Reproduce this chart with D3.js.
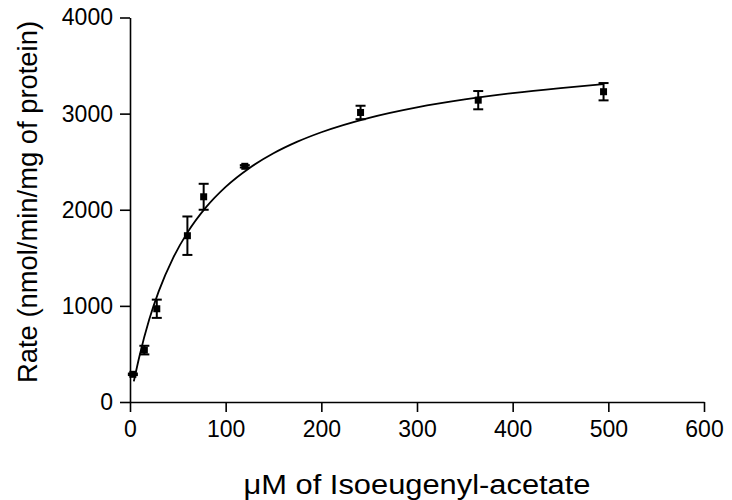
<!DOCTYPE html>
<html>
<head>
<meta charset="utf-8">
<script src="https://cdn.jsdelivr.net/npm/d3@7"></script>
<style>
  body { margin: 0; background: #fff; }
  svg text { font-family: "Liberation Sans", Arial, sans-serif; fill: #000; }
</style>
</head>
<body>
<div id="chart"></div>
<script>
// measured points (substrate conc. µM, rate, +/- error)
const concs = [3, 15, 28, 60, 77, 120, 241, 364, 495];
const rates = [288, 540, 970, 1730, 2135, 2452, 3012, 3140, 3228];
const errs  = [8, 45, 95, 200, 135, 12, 70, 95, 90];

// fitted curve
const fitX = [4, 10, 20, 30, 45, 60, 80, 100, 125, 150, 175, 200, 250, 300, 350, 400, 450, 495];
const fitY = [215, 482, 855, 1151, 1497, 1762, 2032, 2238, 2435, 2587, 2708, 2806, 2956, 3065, 3148, 3214, 3266, 3306];

const xTicks = [0, 100, 200, 300, 400, 500, 600];
const yTicks = [0, 1000, 2000, 3000, 4000];

function renderChart() {
    const width = 732;
    const height = 500;
    const margin = { top: 17.5, right: 28, bottom: 98, left: 130 };

    const svg = d3.select("#chart").append("svg")
        .attr("width", width)
        .attr("height", height);

    const x = d3.scaleLinear()
        .domain([0, 600])
        .range([margin.left, width - margin.right]);

    const y = d3.scaleLinear()
        .domain([0, 4000])
        .range([height - margin.bottom, margin.top]);

    // axes
    const xAxis = svg.append("g")
        .attr("transform", `translate(0,${y(0)})`)
        .call(d3.axisBottom(x).tickValues(xTicks).tickFormat(d3.format("d"))
            .tickSize(10).tickSizeOuter(0).tickPadding(9));
    const yAxis = svg.append("g")
        .attr("transform", `translate(${x(0)},0)`)
        .call(d3.axisLeft(y).tickValues(yTicks).tickFormat(d3.format("d"))
            .tickSize(10).tickSizeOuter(0).tickPadding(7));

    [xAxis, yAxis].forEach(g => {
        g.selectAll("path, line").attr("stroke", "#000").attr("stroke-width", 1.6);
        g.selectAll("text").attr("font-size", 23).attr("font-family", "Liberation Sans, Arial, sans-serif");
    });

    // fit line
    const line = d3.line()
        .x(d => x(d))
        .y((d, i) => y(fitY[i]))
        .curve(d3.curveMonotoneX);

    svg.append("path")
        .datum(fitX)
        .attr("d", line)
        .attr("fill", "none")
        .attr("stroke", "#000")
        .attr("stroke-width", 1.8);

    // error bars
    const pts = concs.map((c, i) => ({ c: c, r: rates[i], e: errs[i] }));
    const eb = svg.append("g").attr("stroke", "#000").attr("stroke-width", 2);
    eb.selectAll(".v").data(pts).enter().append("line")
        .attr("x1", d => x(d.c)).attr("x2", d => x(d.c))
        .attr("y1", d => y(d.r - d.e)).attr("y2", d => y(d.r + d.e));
    eb.selectAll(".t").data(pts).enter().append("line")
        .attr("x1", d => x(d.c) - 5).attr("x2", d => x(d.c) + 5)
        .attr("y1", d => y(d.r + d.e)).attr("y2", d => y(d.r + d.e));
    eb.selectAll(".b").data(pts).enter().append("line")
        .attr("x1", d => x(d.c) - 5).attr("x2", d => x(d.c) + 5)
        .attr("y1", d => y(d.r - d.e)).attr("y2", d => y(d.r - d.e));

    // square markers
    svg.append("g").selectAll("rect").data(pts).enter().append("rect")
        .attr("x", d => x(d.c) - 3.5)
        .attr("y", d => y(d.r) - 3.5)
        .attr("width", 7)
        .attr("height", 7)
        .attr("fill", "#000");

    // axis titles
    svg.append("text")
        .attr("x", (x(0) + x(600)) / 2)
        .attr("y", 494)
        .attr("text-anchor", "middle")
        .attr("font-size", 27)
        .attr("textLength", 347)
        .attr("lengthAdjust", "spacingAndGlyphs")
        .text("\u03bcM of Isoeugenyl-acetate");

    svg.append("text")
        .attr("transform", "translate(37,202) rotate(-90)")
        .attr("text-anchor", "middle")
        .attr("font-size", 27)
        .attr("textLength", 362)
        .attr("lengthAdjust", "spacingAndGlyphs")
        .text("Rate (nmol/min/mg of protein)");
}

renderChart();
</script>
</body>
</html>
